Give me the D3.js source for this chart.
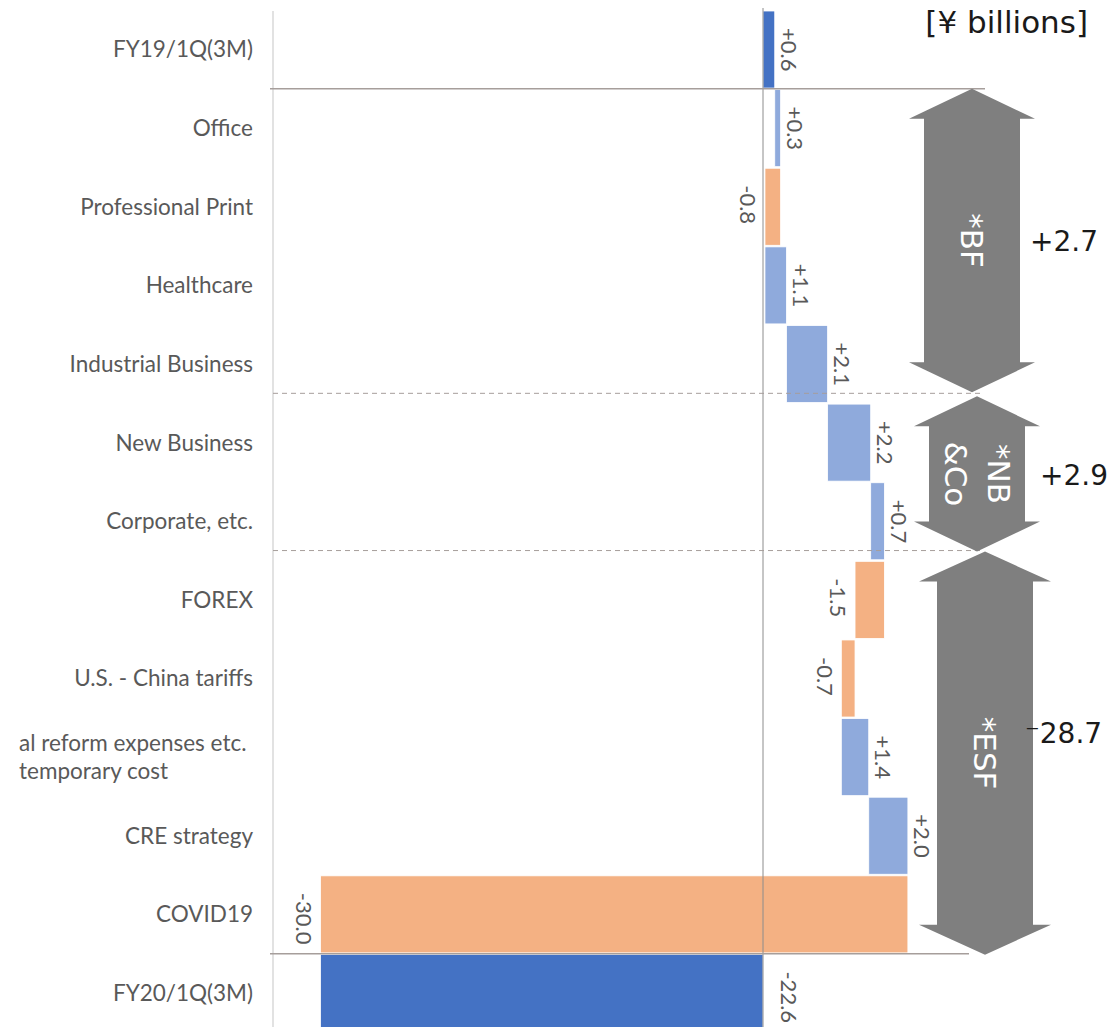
<!DOCTYPE html>
<html>
<head>
<meta charset="utf-8">
<script src="https://cdn.jsdelivr.net/npm/d3@7"></script>
<style>
  body { margin: 0; background: #fff; }
  svg { display: block; }
</style>
</head>
<body>
<svg id="chart" width="1118" height="1027"></svg>
<script>
// categories (top to bottom) and their change values
var categories = ["FY19/1Q(3M)", "Office", "Professional Print", "Healthcare", "Industrial Business",
  "New Business", "Corporate, etc.", "FOREX", "U.S. - China tariffs",
  "al reform expenses etc.\ntemporary cost", "CRE strategy", "COVID19", "FY20/1Q(3M)"];
var changes = [0.6, 0.3, -0.8, 1.1, 2.1, 2.2, 0.7, -1.5, -0.7, 1.4, 2.0, -30.0, -22.6];
var isTotal = [true, false, false, false, false, false, false, false, false, false, false, false, true];

// bracket groups on the right
var groupNames = ["*BF", "*NB\n&Co", "*ESF"];
var groupTotals = ["+2.7", "+2.9", "\u207B28.7"];
var groupFirst = [1, 5, 7];
var groupLast = [4, 6, 11];

var colors = { total: "#4472C4", up: "#8FAADC", down: "#F4B183" };

var svg = d3.select("#chart"),
    width = +svg.attr("width"),
    height = +svg.attr("height");

// build waterfall rows
var running = 0;
var rows = categories.map(function(c, i) {
  var v = changes[i], start, end;
  if (isTotal[i]) { start = 0; end = v; running = v; }
  else { start = running; end = running + v; running = end; }
  return { cat: c, value: v, start: start, end: end, total: isTotal[i], i: i };
});

var x = d3.scaleLinear().domain([-30, 10]).range([763 - 30 * 19.58, 763 + 10 * 19.58]);
var y = d3.scaleBand().domain(categories).range([11, 11 + 13 * 78.5]).paddingInner(0.02).paddingOuter(0);

// boundary above row i
function edge(i) {
  if (i >= categories.length) return y.range()[1];
  return y(categories[i]) - y.step() * y.paddingInner() / 2;
}

var fmt = d3.format("+.1f");
function label(v) { return fmt(v).replace("\u2212", "-"); }

// left axis line
svg.append("line")
  .attr("x1", 273).attr("x2", 273).attr("y1", 11).attr("y2", height)
  .attr("stroke", "#d9d9d9").attr("stroke-width", 1.5);

// category labels
var catG = svg.append("g")
  .attr("font-family", "Lato, 'Open Sans', sans-serif")
  .attr("font-size", 22.5)
  .attr("fill", "#595959");

rows.forEach(function(d) {
  var cy = y(d.cat) + y.bandwidth() / 2;
  var lines = d.cat.split("\n");
  if (lines.length == 1) {
    catG.append("text")
      .attr("x", 253).attr("y", cy).attr("dy", "0.35em")
      .attr("text-anchor", "end")
      .text(d.cat);
  } else {
    lines.forEach(function(l, k) {
      catG.append("text")
        .attr("x", 19).attr("y", cy + (k - (lines.length - 1) / 2) * 28).attr("dy", "0.35em")
        .attr("text-anchor", "start")
        .text(l);
    });
  }
});

// bars
svg.append("g")
  .selectAll("rect")
  .data(rows)
  .enter().append("rect")
    .attr("x", function(d) { return x(Math.min(d.start, d.end)); })
    .attr("y", function(d) { return y(d.cat); })
    .attr("width", function(d) { return Math.abs(x(d.end) - x(d.start)); })
    .attr("height", y.bandwidth())
    .attr("fill", function(d) { return d.total ? colors.total : (d.value >= 0 ? colors.up : colors.down); })
    .attr("stroke", "#fff")
    .attr("stroke-width", 0.8);

// zero line
svg.append("line")
  .attr("x1", x(0)).attr("x2", x(0)).attr("y1", 8).attr("y2", height)
  .attr("stroke", "#8c8c8c").attr("stroke-width", 1);

// separators
var lineColor = "#a69e9b";
svg.append("line")
  .attr("x1", 270).attr("x2", 985).attr("y1", edge(1)).attr("y2", edge(1))
  .attr("stroke", lineColor).attr("stroke-width", 1.5);
svg.append("line")
  .attr("x1", 270).attr("x2", 969).attr("y1", edge(12)).attr("y2", edge(12))
  .attr("stroke", lineColor).attr("stroke-width", 1.5);

var dividers = groupFirst.map(function(f, k) { return k == 0 ? edge(f) : edge(f) - 10; });
dividers.slice(1).forEach(function(dy) {
  svg.append("line")
    .attr("x1", 273).attr("x2", 980).attr("y1", dy).attr("y2", dy)
    .attr("stroke", lineColor).attr("stroke-width", 1)
    .attr("stroke-dasharray", "5,4");
});

// value labels (rotated)
var labG = svg.append("g")
  .attr("font-family", "Lato, 'Open Sans', sans-serif")
  .attr("font-size", 22)
  .attr("fill", "#595959");

rows.forEach(function(d) {
  var lx;
  if (d.total) {
    lx = Math.max(x(0), x(d.value)) + (d.value < 0 ? 26 : 14);
  } else if (d.value >= 0) {
    lx = x(d.end) + 14;
  } else {
    lx = x(d.end) - 17;
  }
  var ly = y(d.cat) + 17;
  labG.append("text")
    .attr("transform", "translate(" + lx + "," + ly + ") rotate(90)")
    .attr("dy", "0.35em")
    .attr("text-anchor", "start")
    .text(label(d.value));
});

// double arrows for groups
var arrowCx = [972, 977, 985],
    headHalf = [63, 63, 66],
    shaftHalf = 48,
    headLen = 30;

groupNames.forEach(function(name, k) {
  var top = k == 0 ? dividers[0] : dividers[k] + (k == 1 ? 3 : 1);
  var bot = k < groupNames.length - 1 ? dividers[k + 1] + (k == 0 ? -1 : 1) : edge(groupLast[k] + 1) + 1;
  var cx = arrowCx[k], hh = headHalf[k];
  var pts = [
    [cx, top],
    [cx + hh, top + headLen],
    [cx + shaftHalf, top + headLen],
    [cx + shaftHalf, bot - headLen],
    [cx + hh, bot - headLen],
    [cx, bot],
    [cx - hh, bot - headLen],
    [cx - shaftHalf, bot - headLen],
    [cx - shaftHalf, top + headLen],
    [cx - hh, top + headLen]
  ];
  svg.append("path")
    .attr("d", d3.line()(pts) + "Z")
    .attr("fill", "#7f7f7f");

  var mid = (top + bot) / 2;
  var lines = name.split("\n");
  var t = svg.append("text")
    .attr("transform", "translate(" + cx + "," + mid + ") rotate(90)")
    .attr("font-family", "'DejaVu Sans', sans-serif")
    .attr("font-size", 31)
    .attr("fill", "#fff")
    .attr("text-anchor", "middle");
  lines.forEach(function(l, j) {
    t.append("tspan")
      .attr("x", 0)
      .attr("y", (j - (lines.length - 1) / 2) * 43)
      .attr("dy", "0.35em")
      .text(l);
  });
});

// group totals
var totalX = [1030, 1040, 1025],
    totalDy = [0, 3, -19];
groupTotals.forEach(function(txt, k) {
  var top = k == 0 ? dividers[0] : dividers[k];
  var bot = k < groupTotals.length - 1 ? dividers[k + 1] : edge(groupLast[k] + 1);
  svg.append("text")
    .attr("x", totalX[k])
    .attr("y", (top + bot) / 2 + totalDy[k])
    .attr("dy", "0.35em")
    .attr("font-family", "'DejaVu Sans', sans-serif")
    .attr("font-size", 28)
    .attr("fill", "#1a1a1a")
    .text(txt);
});

// unit
svg.append("text")
  .attr("x", 1088).attr("y", 33)
  .attr("text-anchor", "end")
  .attr("font-family", "'DejaVu Sans', sans-serif")
  .attr("font-size", 31)
  .attr("fill", "#1a1a1a")
  .text("[\u00A5 billions]");
</script>
</body>
</html>
